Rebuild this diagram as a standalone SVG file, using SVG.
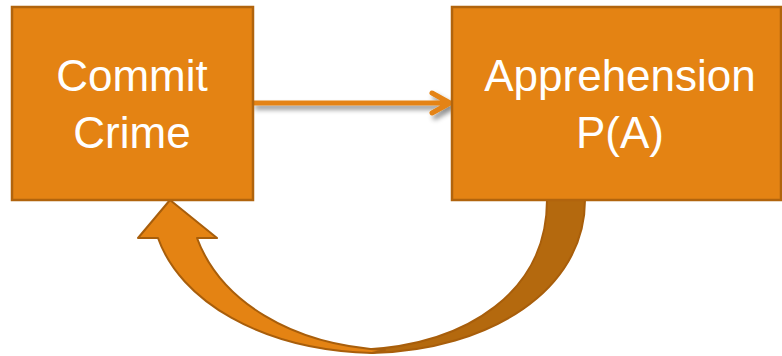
<svg xmlns="http://www.w3.org/2000/svg" width="782" height="356" viewBox="0 0 782 356">
<defs>
<style>
.box{fill:#E48313;stroke:#B1640D;stroke-width:2.5}
.lbl{font-family:"Liberation Sans",Arial,sans-serif;font-size:44px;fill:#ffffff;text-anchor:middle}
.arr{fill:none;stroke:#E48313;stroke-width:5;stroke-linecap:round;stroke-linejoin:round}
</style>
<filter id="sh" x="-20%" y="-50%" width="140%" height="250%">
<feDropShadow dx="3" dy="4" stdDeviation="2.5" flood-color="#000" flood-opacity="0.45"/>
</filter>
</defs>
<g id="connectors">
<g filter="url(#sh)">
<path class="arr" d="M254 103 L450 103 M432 93 L450 103 L432 113"/>
</g>
<path d="M585 200 C585 290 490 350 372 353 L360 350 C470 345 547 290 547 200 Z" fill="#B4690E" stroke="#A85E0B" stroke-width="2"/>
<path d="M170 200 L217 238 L197 238 C220 300 290 345 385 350 L372 353 C260 350 180 300 158 238 L138 238 Z" fill="#E48313" stroke="#A85E0B" stroke-width="2" stroke-linejoin="round"/>
</g>
<g id="node-commit">
<rect class="box" x="12" y="7" width="241" height="193"/>
<text class="lbl" x="132" y="91">Commit</text>
<text class="lbl" x="132" y="148">Crime</text>
</g>
<g id="node-apprehension">
<rect class="box" x="452" y="7" width="329" height="193"/>
<text class="lbl" x="620" y="91">Apprehension</text>
<text class="lbl" x="620" y="148">P(A)</text>
</g>
</svg>
